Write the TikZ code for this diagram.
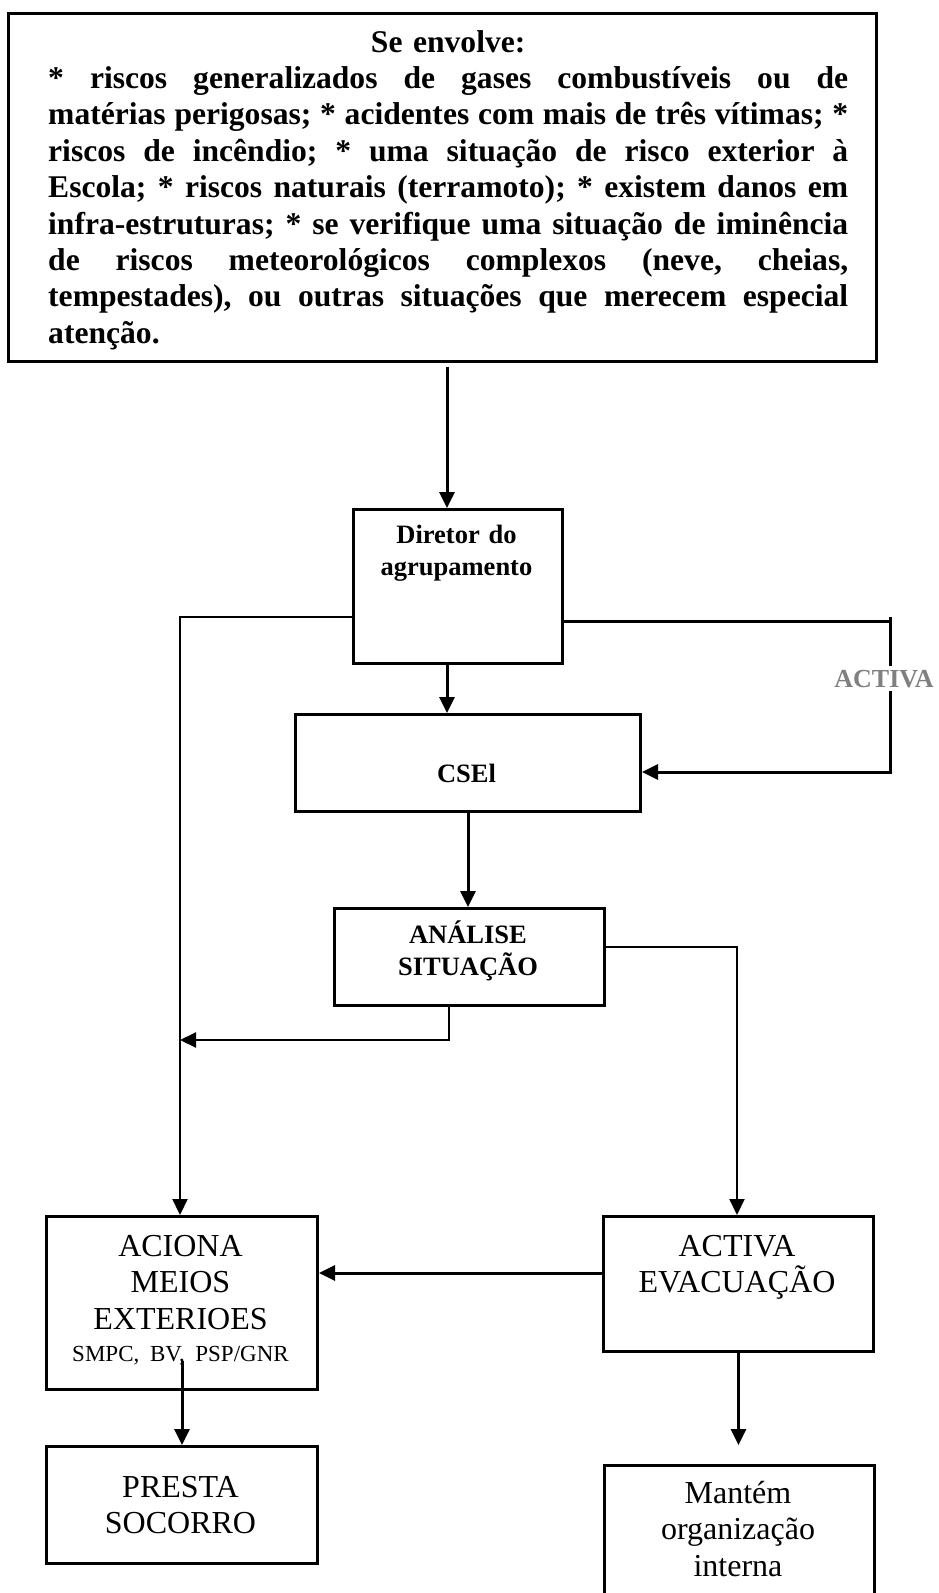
\documentclass[tikz,border=0pt]{standalone}
\usepackage{fontspec}
\setmainfont{Liberation Serif}
\usetikzlibrary{arrows.meta,calc}
\definecolor{actgray}{RGB}{128,128,128}
\newcommand{\jline}[1]{\hbox to \linewidth{\frenchspacing\spaceskip=0.25em plus 1fil minus 0.08em\relax #1}\par}
\newcommand{\ctrline}[1]{\hbox to \linewidth{\hss #1\hss}\par}
\begin{document}
\begin{tikzpicture}[x=1pt,y=-1pt,
  box/.style={draw, line width=3pt, rectangle, inner sep=0pt, anchor=north west},
  ln/.style={line width=3pt},
  thinln/.style={line width=2pt},
  arr/.style={-{Triangle[length=16pt,width=15pt]}},
  btxt/.style={font=\fontsize{26.5}{32}\selectfont\bfseries, text width=260pt, align=center, inner sep=0pt, anchor=base},
  rtxt/.style={font=\fontsize{32}{36.5}\selectfont, text width=268pt, align=center, inner sep=0pt, anchor=base},
  lbl/.style={font=\fontsize{26}{30}\selectfont\bfseries, text=actgray, fill=white, inner xsep=0pt, inner ysep=4pt, anchor=base}
]
\path[use as bounding box, clip] (0,0) rectangle (938,1593);

% boxes
\node[box, minimum width=868pt, minimum height=348pt] (top) at (7,12) {};
\node[box, minimum width=209pt, minimum height=154pt] (dir) at (352,508) {};
\node[box, minimum width=345pt, minimum height=97pt] (csel) at (294,713) {};
\node[box, minimum width=270pt, minimum height=97pt] (anal) at (333,907) {};
\node[box, minimum width=271pt, minimum height=173pt] (acion) at (45,1215) {};
\node[box, minimum width=270pt, minimum height=135pt] (actev) at (602,1215) {};
\node[box, minimum width=271pt, minimum height=117pt] (presta) at (45,1445) {};
\node[box, minimum width=270pt, minimum height=200pt] (mant) at (603,1464) {};

% texts
\node[font=\fontsize{31.6}{36.4}\selectfont\bfseries, text width=800pt, inner sep=0pt, anchor=base west] (toptxt) at (48,52) {%
\ctrline{Se envolve:}%
\jline{* riscos generalizados de gases combustíveis ou de}%
\jline{matérias perigosas; * acidentes com mais de três vítimas; *}%
\jline{riscos de incêndio; * uma situação de risco exterior à}%
\jline{Escola; * riscos naturais (terramoto); * existem danos em}%
\jline{infra-estruturas; * se verifique uma situação de iminência}%
\jline{de riscos meteorológicos complexos (neve, cheias,}%
\jline{tempestades), ou outras situações que merecem especial}%
atenção.};

\node[btxt] (dirt) at (456.5,543) {Diretor do\\agrupamento};
\node[btxt] (cselt) at (466.5,782) {CSEl};
\node[btxt] (analt) at (468,943) {ANÁLISE\\SITUAÇÃO};
\node[rtxt] (aciont) at (180.5,1256) {ACIONA\\MEIOS\\EXTERIOES\\[-4pt]{\fontsize{23}{36.5}\selectfont SMPC, BV, PSP/GNR}};
\node[rtxt] (actevt) at (737,1256) {ACTIVA\\EVACUAÇÃO};
\node[rtxt] (prestat) at (180.5,1497) {PRESTA\\SOCORRO};
\node[rtxt] (mantt) at (738,1503) {Mantém\\organização\\interna};

% connectors
\coordinate (tA) at (447,367);
\draw[ln, arr] (tA) -- (tA |- dir.north);
\draw[ln, arr] (tA |- dir.south) -- (tA |- csel.north);

\coordinate (lA) at (180,617);
\draw[thinln, arr] (lA -| dir.west) -- (lA) -- (lA |- acion.north);

\coordinate (rA) at (890,621);
\coordinate (rB) at (890,772);
\draw[ln] (rA) -- ++(0,-4);
\draw[ln, arr] (rA -| dir.east) -- (rA) -- (rB) -- (rB -| csel.east);
\node[lbl] (activa) at (884,687) {ACTIVA};

\draw[ln, arr] (csel.south) -- (csel.south |- anal.north);

\coordinate (aB) at (449,1040);
\draw[thinln, arr] (aB |- anal.south) -- (aB) -- (aB -| lA);

\coordinate (aR) at (737,947);
\draw[thinln, arr] (aR -| anal.east) -- (aR) -- (aR |- actev.north);

\coordinate (hA) at (0,1273);
\draw[ln, arr] (hA -| actev.west) -- (hA -| acion.east);

\draw[ln, arr] ([yshift=30pt]acion.south) -- (presta.north);
\draw[ln, arr] (actev.south) -- ($(actev.south |- mant.north)+(0,-19)$);
\end{tikzpicture}
\end{document}
